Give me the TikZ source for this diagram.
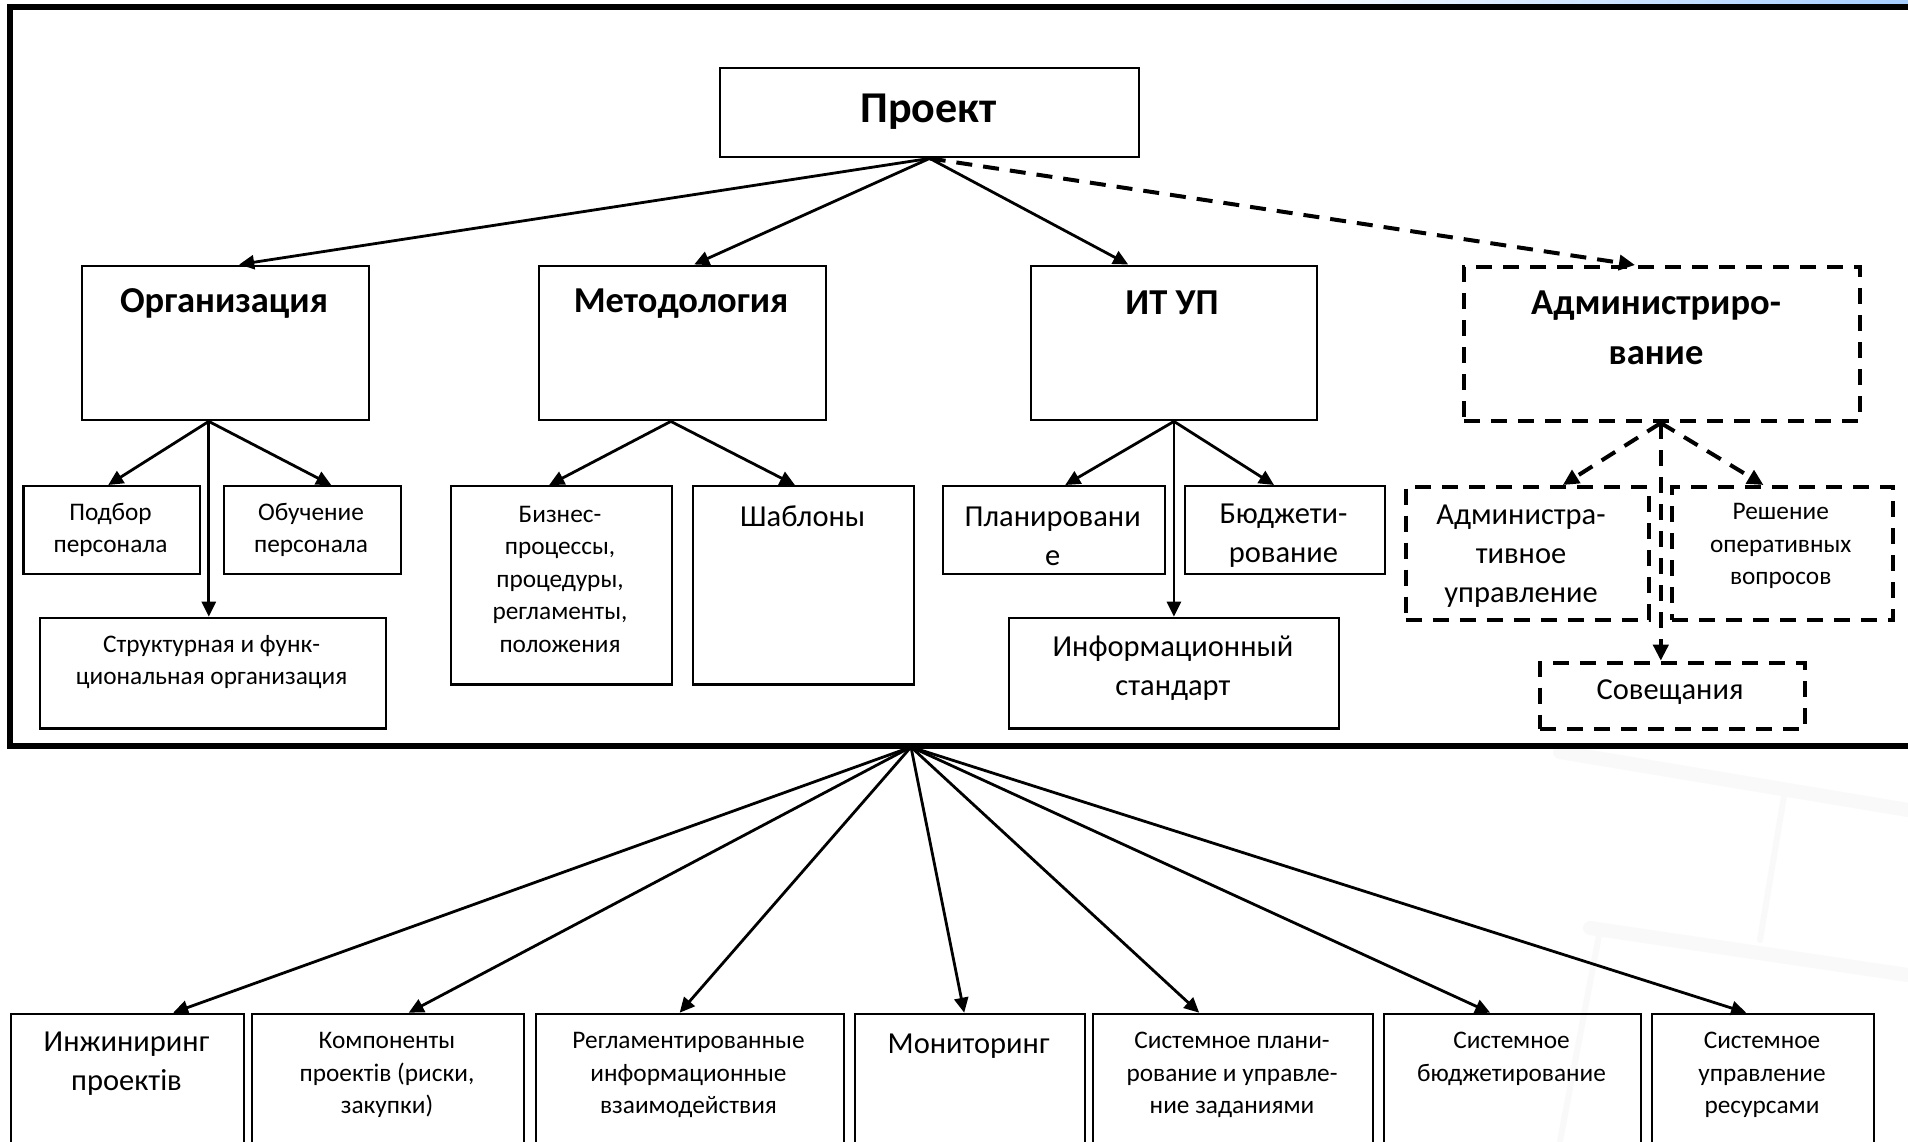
\documentclass[tikz,border=0pt]{standalone}
\usepackage{fontspec}
\setmainfont{Carlito}
\usetikzlibrary{arrows.meta}
\begin{document}
\begin{tikzpicture}[x=1pt,y=-1pt,
  bx/.style={draw=black, line width=2.4pt, rectangle, inner sep=0pt, anchor=north west},
  dbx/.style={bx, line width=4pt, dash pattern=on 16pt off 11pt},
  arr/.style={line width=2.8pt, -{Triangle[length=15pt,width=14pt]}},
  darr/.style={line width=4pt, dash pattern=on 16pt off 11pt, -{Triangle[length=16pt,width=15pt]}},
  hdr/.style={font=\fontsize{36.5}{50}\selectfont\bfseries, align=center, inner sep=0pt},
  mid/.style={font=\fontsize{30.5}{39}\selectfont, align=center, inner sep=0pt},
  sml/.style={font=\fontsize{25.3}{32.5}\selectfont, align=center, inner sep=0pt},
  band/.style={line width=14pt, gray!5, line cap=round},
]
\clip (0,0) rectangle (1908,1141);
\fill[white] (0,0) rectangle (1908,1141);
% faint background watermark bands
\draw[band] (1560,752) -- (1908,810);
\draw[band] (1590,928) -- (1908,975);
\draw[band, line width=6pt] (1785,790) -- (1760,940);
\draw[band, line width=6pt] (1600,930) -- (1560,1141);
% thin cyan line at top right
\shade[left color=white, right color=cyan!45!blue!35] (1230,0) rectangle (1908,3);

% outer frame
\draw[line width=6pt] (1930,7.2) -- (10.3,7.2) -- (10.3,745.5) -- (1930,745.5);
\coordinate (hub) at (911,747);

% boxes
\node[bx, minimum width=419, minimum height=89] (proj) at (719,67) {};
\node[bx, minimum width=287.5, minimum height=154.5] (org) at (80.5,264.5) {};
\node[bx, minimum width=287, minimum height=154.5] (met) at (538,264.5) {};
\node[bx, minimum width=286.5, minimum height=154.5] (itup) at (1029.5,264.5) {};
\node[dbx, minimum width=396, minimum height=154] (adm) at (1462,265) {};

\node[bx, minimum width=176.4, minimum height=87.7] (pod) at (22.3,485) {};
\node[bx, minimum width=176.8, minimum height=87.7] (obu) at (222.8,485) {};
\node[bx, minimum width=346, minimum height=110.6] (str) at (38.8,616.7) {};
\node[bx, minimum width=220.5, minimum height=198.3] (biz) at (450,485) {};
\node[bx, minimum width=221, minimum height=198.3] (shab) at (692,485) {};
\node[bx, minimum width=222, minimum height=87.7] (plan) at (942,485) {};
\node[bx, minimum width=200, minimum height=87.7] (budg) at (1184,485) {};
\node[bx, minimum width=329.5, minimum height=110.6] (inf) at (1008,616.7) {};
\node[dbx, minimum width=243.4, minimum height=132.7] (admupr) at (1403.6,485) {};
\node[dbx, minimum width=221, minimum height=132.7] (resh) at (1670,485) {};
\node[dbx, minimum width=265, minimum height=66] (sov) at (1538,660.7) {};

\node[bx, minimum width=233.3, minimum height=170] (b1) at (9.7,1012.7) {};
\node[bx, minimum width=272.4, minimum height=170] (b2) at (250.6,1012.7) {};
\node[bx, minimum width=307.5, minimum height=170] (b3) at (535,1012.7) {};
\node[bx, minimum width=229.5, minimum height=170] (b4) at (854,1012.7) {};
\node[bx, minimum width=280, minimum height=170] (b5) at (1092,1012.7) {};
\node[bx, minimum width=257, minimum height=170] (b6) at (1383,1012.7) {};
\node[bx, minimum width=222, minimum height=170] (b7) at (1651,1012.7) {};

% texts
\node[hdr, font=\fontsize{44}{50}\selectfont\bfseries] (tproj) at (928.5,111.5) {Проект};
\node[hdr] (torg) at (224,303.5) {Организация};
\node[hdr] (tmet) at (681,303.5) {Методология};
\node[hdr] (titup) at (1172,303) {ИТ УП};
\node[hdr] (tadm) at (1656,328) {Администриро-\\вание};

\node[sml] (tpod) at (110.5,530) {Подбор\\персонала};
\node[sml] (tobu) at (311,530) {Обучение\\персонала};
\node[sml] (tstr) at (211.6,662) {Структурная и функ-\\циональная организация};
\node[sml] (tbiz) at (560,579) {Бизнес-\\процессы,\\процедуры,\\регламенты,\\положения};
\node[mid] (tshab) at (802.7,516) {Шаблоны};
\node[mid] (tplan) at (1052.7,536) {Планировани\\е};
\node[mid] (tbudg) at (1283.5,536) {Бюджети-\\рование};
\node[mid] (tinf) at (1173,668) {Информационный\\стандарт};
\node[mid] (tadmupr) at (1521,556) {Администра-\\тивное\\управление};
\node[sml] (tresh) at (1780.7,546) {Решение\\оперативных\\вопросов};
\node[mid] (tsov) at (1670,691.7) {Совещания};

\node[mid] (tb1) at (126.5,1064) {Инжиниринг\\проектів};
\node[sml] (tb2) at (387,1075) {Компоненты\\проектів (риски,\\закупки)};
\node[sml] (tb3) at (688.5,1075) {Регламентированные\\информационные\\взаимодействия};
\node[mid] (tb4) at (968.6,1046) {Мониторинг};
\node[sml] (tb5) at (1232,1075) {Системное плани-\\рование и управле-\\ние заданиями};
\node[sml] (tb6) at (1511.5,1059) {Системное\\бюджетирование};
\node[sml] (tb7) at (1762,1075) {Системное\\управление\\ресурсами};

% connectors: level 1
\draw[arr] (proj.south) -- ([xshift=13.75]org.north);
\draw[arr] (proj.south) -- ([xshift=11.5]met.north);
\draw[arr] (proj.south) -- ([xshift=-45.75]itup.north);
\draw[darr] (proj.south) -- ([xshift=-27]adm.north);

% Организация
\draw[arr] ([xshift=-16.65]org.south) -- ([xshift=-3.5]pod.north);
\draw[arr] ([xshift=-16.65]org.south) -- ([xshift=18.8]obu.north);
\draw[arr] ([xshift=-16.65]org.south) -- ([xshift=-16.65]org.south |- str.north);
% Методология
\draw[arr] ([xshift=-11.9]met.south) -- ([xshift=-12.25]biz.north);
\draw[arr] ([xshift=-11.9]met.south) -- ([xshift=-8.8]shab.north);
% ИТ УП
\draw[arr] (itup.south) -- ([xshift=11]plan.north);
\draw[arr] (itup.south) -- ([xshift=-11.2]budg.north);
\draw[arr] (itup.south) -- (itup.south |- inf.north);
% Администрирование
\draw[darr] ([xshift=-1.2]adm.south) -- ([xshift=35.5]admupr.north);
\draw[darr] ([xshift=-1.2]adm.south) -- ([xshift=-19]resh.north);
\draw[darr] ([xshift=-1.2]adm.south) -- ([xshift=-1.2]adm.south |- sov.north);

% bottom row
\draw[arr] (hub) -- ([xshift=45.65]b1.north);
\draw[arr] (hub) -- ([xshift=20.7]b2.north);
\draw[arr] (hub) -- ([xshift=-10.25]b3.north);
\draw[arr] (hub) -- ([xshift=-5.75]b4.north);
\draw[arr] (hub) -- ([xshift=-34]b5.north);
\draw[arr] (hub) -- ([xshift=-22.5]b6.north);
\draw[arr] (hub) -- ([xshift=-17]b7.north);
\end{tikzpicture}
\end{document}
